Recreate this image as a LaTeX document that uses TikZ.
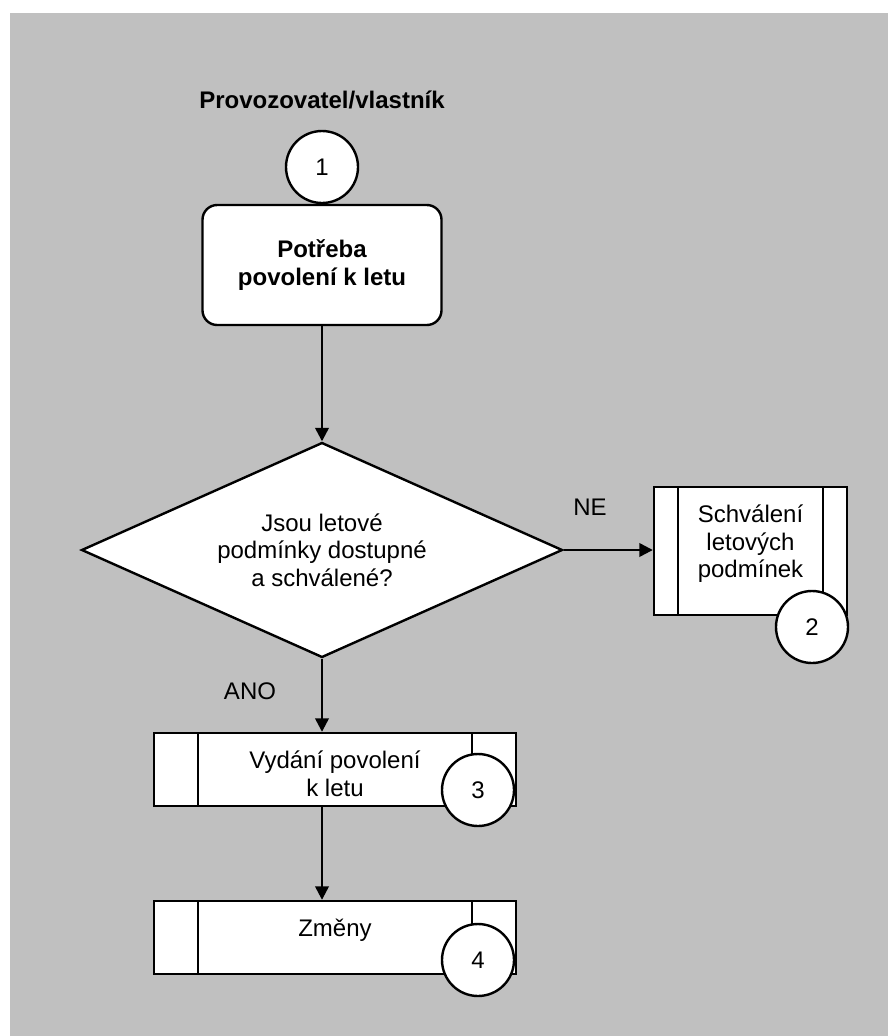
\documentclass[tikz,border=0pt]{standalone}
\usepackage{fontspec}
\setmainfont{Liberation Sans}
\usetikzlibrary{shapes.geometric, arrows.meta, positioning}
\definecolor{pozadi}{RGB}{192,192,192}
\begin{document}
\begin{tikzpicture}[x=0.75pt, y=-0.75pt, line width=1.8pt,
    font=\fontsize{18}{20.5}\selectfont,
    krok/.style={draw, fill=white, rounded corners=11pt, minimum width=179.25pt,
      minimum height=90pt, align=center, font=\fontsize{18}{20.5}\selectfont\bfseries},
    kruh/.style={draw, fill=white, circle, minimum size=54pt, inner sep=0pt},
    otazka/.style={draw, fill=white, diamond, aspect=2.2, inner sep=0pt,
      minimum width=360.75pt, minimum height=161.25pt, align=center},
    podproces/.style={draw, fill=white, rectangle, path picture={
      \draw ([xshift=#1]path picture bounding box.north west) -- ([xshift=#1]path picture bounding box.south west);
      \draw ([xshift=-#1]path picture bounding box.north east) -- ([xshift=-#1]path picture bounding box.south east);}},
    popis/.style={align=center, inner sep=0pt},
    sipka/.style={-{Triangle[length=10pt, width=10pt]}}]
  \useasboundingbox (0,0) rectangle (888,1036);
  \fill[pozadi] (10,13) rectangle (888,1036);
  % zacatek
  \node[font=\fontsize{18}{20.5}\selectfont\bfseries] (nadpis) at (322,100) {Provozovatel/vlastník};
  \node[krok] (potreba) at (322,265) {Potřeba\\povolení k letu};
  \node[kruh] (k1) at (322,167) {1};
  % rozhodnuti
  \node[otazka] (otazka) at (322,550) {Jsou letové\\podmínky dostupné\\a schválené?};
  \node[podproces=18pt, minimum width=144.75pt, minimum height=96pt] (schvaleni) at (750.5,551) {};
  \node[popis, below=13.5pt of schvaleni.north] (t2) {Schválení\\letových\\podmínek};
  \node[kruh] (k2) at (812,627) {2};
  % povoleni a zmeny
  \node[podproces=33pt, minimum width=271.5pt, minimum height=54.75pt] (vydani) at (335,769.5) {};
  \node[popis, below=13.5pt of vydani.north] (t3) {Vydání povolení\\k letu};
  \node[kruh] (k3) at (478,790) {3};
  \node[podproces=33pt, minimum width=271.5pt, minimum height=54.75pt] (zmeny) at (335,937.5) {};
  \node[popis, below=13.5pt of zmeny.north] (t4) {Změny};
  \node[kruh] (k4) at (478,960) {4};
  \node (ne) at (590,507) {NE};
  \node (ano) at (250,691) {ANO};
  % sipky
  \draw[sipka] (potreba) -- (otazka);
  \draw[sipka] (otazka.east) -- (schvaleni.west |- otazka.east);
  \draw[sipka] (otazka.south) -- (otazka.south |- vydani.north);
  \draw[sipka] (otazka.south |- vydani.south) -- (otazka.south |- zmeny.north);
\end{tikzpicture}
\end{document}
